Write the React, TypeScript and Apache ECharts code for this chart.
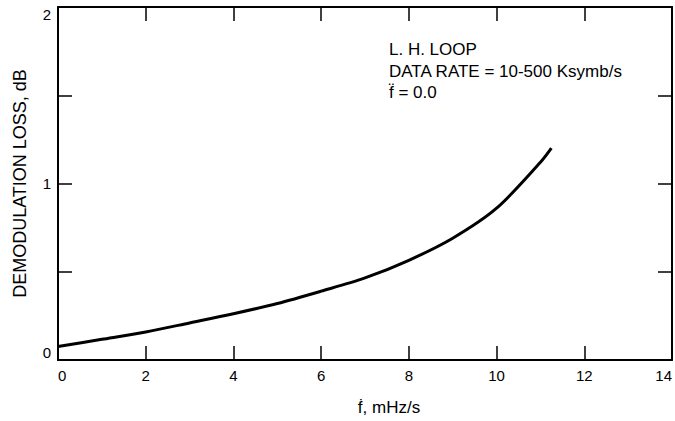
import React, { useEffect, useRef } from "react";
import * as echarts from "echarts";

const fdot = [0, 1, 2, 3, 4, 5, 6, 7, 8, 9, 10, 11, 11.25];
const loss = [0.076, 0.117, 0.159, 0.21, 0.262, 0.32, 0.39, 0.465, 0.565, 0.69, 0.86, 1.12, 1.2];
const xTicks = [0, 2, 4, 6, 8, 10, 12, 14];
const yLabels = [0, 1, 2];
const notes = ["L. H. LOOP", "DATA RATE = 10-500 Ksymb/s", "f\u0308 = 0.0"];

const FONT = "'Liberation Sans', Arial, Helvetica, sans-serif";

export default function App() {
  const ref = useRef<HTMLDivElement>(null);
  useEffect(() => {
    if (!ref.current) return;
    const chart = echarts.init(ref.current, undefined, { renderer: "svg" });
    const axisLine = { show: true, onZero: false, lineStyle: { color: "#000", width: 2 } };
    const tick = { show: true, inside: true, length: 14, lineStyle: { color: "#000", width: 1.5 } };
    chart.setOption({
      animation: false,
      backgroundColor: "#fff",
      grid: { left: 58, right: 3, top: 7, bottom: 61, outerBoundsMode: "none", containLabel: false },
      xAxis: [
        {
          type: "value",
          min: 0,
          max: 14,
          interval: 2,
          axisLine,
          axisTick: tick,
          splitLine: { show: false },
          axisLabel: {
            color: "#000",
            fontSize: 15,
            fontFamily: FONT,
            margin: 8,
            alignMinLabel: "left",
            alignMaxLabel: "right",
            formatter: (v: number) => (xTicks.includes(v) ? String(v) : ""),
          },
          name: "\u1E1F, mHz/s",
          nameLocation: "middle",
          nameGap: 39,
          nameTextStyle: { color: "#000", fontSize: 17, fontFamily: FONT, padding: [0, 0, 0, 48] },
        },
        {
          type: "value",
          position: "top",
          min: 0,
          max: 14,
          interval: 2,
          axisLine,
          axisTick: tick,
          axisLabel: { show: false },
          splitLine: { show: false },
        },
      ],
      yAxis: [
        {
          type: "value",
          min: 0,
          max: 2,
          interval: 0.5,
          axisLine,
          axisTick: tick,
          splitLine: { show: false },
          axisLabel: {
            color: "#000",
            fontSize: 15,
            fontFamily: FONT,
            margin: 7,
            verticalAlignMinLabel: "bottom",
            verticalAlignMaxLabel: "top",
            formatter: (v: number) => (yLabels.includes(v) ? String(v) : ""),
          },
          name: "DEMODULATION LOSS, dB",
          nameLocation: "middle",
          nameGap: 29,
          nameTextStyle: { color: "#000", fontSize: 18, fontFamily: FONT },
        },
        {
          type: "value",
          position: "right",
          min: 0,
          max: 2,
          interval: 0.5,
          axisLine,
          axisTick: tick,
          axisLabel: { show: false },
          splitLine: { show: false },
        },
      ],
      series: [
        {
          type: "line",
          data: fdot.map((x, i) => [x, loss[i]]),
          smooth: 0.3,
          showSymbol: false,
          lineStyle: { color: "#000", width: 3 },
        },
        {
          type: "line",
          xAxisIndex: 1,
          yAxisIndex: 1,
          data: [],
          showSymbol: false,
        },
      ],
      graphic: notes.map((t, i) => ({
        type: "text",
        left: 389,
        top: 41 + i * 21.5,
        style: { text: t, fill: "#000", font: `17px ${FONT}` },
      })),
    });
    return () => chart.dispose();
  }, []);
  return (
    <div
      ref={ref}
      style={{ position: "fixed", left: 0, top: 0, width: 675, height: 421, background: "#fff" }}
    />
  );
}
